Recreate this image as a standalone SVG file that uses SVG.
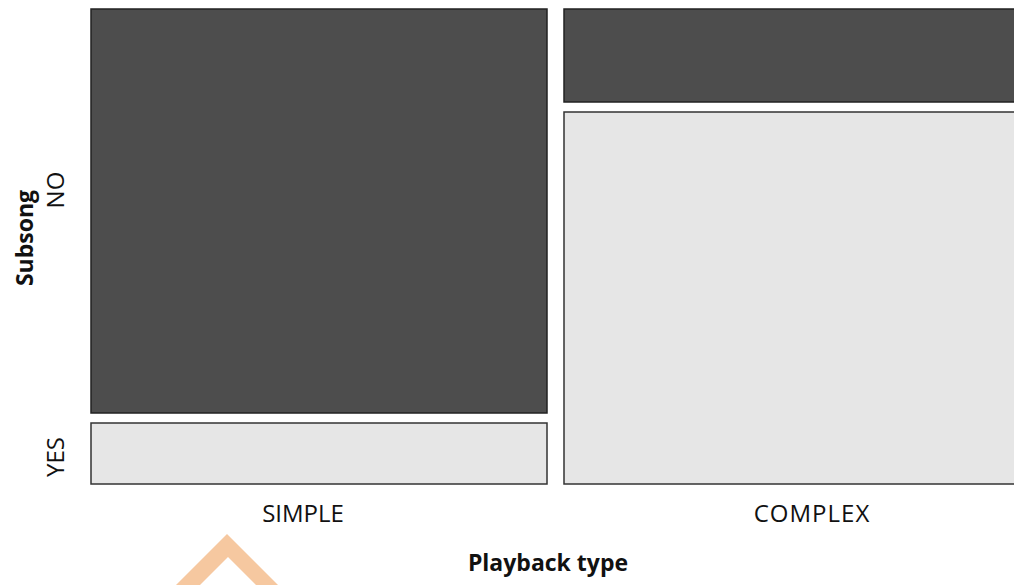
<svg xmlns="http://www.w3.org/2000/svg" width="1014" height="585" viewBox="0 0 1014 585">
<style>
.no{fill:#4d4d4d;stroke:#222;stroke-width:1.5}
.yes{fill:#e6e6e6;stroke:#333;stroke-width:1.5}
.lbl{font-family:"Open Sans","Liberation Sans",sans-serif;font-size:24px;fill:#111}
.ttl{font-family:"Open Sans","Liberation Sans",sans-serif;font-size:23px;font-weight:bold;fill:#111}
</style>
<rect width="1014" height="585" fill="#fff"/>
<g id="simple-no"><rect class="no" x="91" y="9" width="456" height="404"/></g>
<g id="simple-yes"><rect class="yes" x="91" y="423" width="456" height="61"/></g>
<g id="complex-no"><rect class="no" x="564" y="9" width="460" height="93"/></g>
<g id="complex-yes"><rect class="yes" x="564" y="112" width="460" height="372"/></g>
<g id="labels">
<text class="lbl" x="303" y="522" text-anchor="middle">SIMPLE</text>
<text class="lbl" x="812" y="522" text-anchor="middle" letter-spacing="1">COMPLEX</text>
<text class="ttl" x="548" y="571" text-anchor="middle">Playback type</text>
<text class="lbl" transform="translate(64,190) rotate(-90)" text-anchor="middle">NO</text>
<text class="lbl" transform="translate(64,457) rotate(-90)" text-anchor="middle">YES</text>
<text class="ttl" transform="translate(33,238) rotate(-90)" text-anchor="middle">Subsong</text>
</g>
<g id="connectors"></g>
<polygon points="176,585 227,534 278,585 256,585 228,557 200,585" fill="#f6c8a0"/>
</svg>
